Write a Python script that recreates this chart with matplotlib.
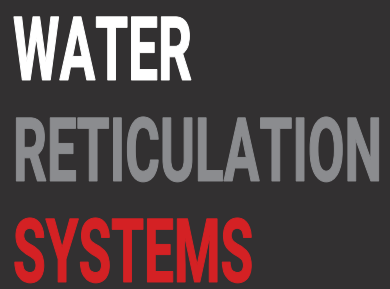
import matplotlib
matplotlib.use("Agg")
import matplotlib.pyplot as plt
from matplotlib import patheffects
from matplotlib.transforms import Affine2D

# 文字内容 / 颜色
WORDS = ["WATER", "RETICULATION", "SYSTEMS"]
COLORS = ["#ffffff", "#8b8c8f", "#d42124"]
BG = "#323031"

W, H = 390, 289
FAMILY = ["Liberation Sans Narrow", "Roboto", "DejaVu Sans"]
FONTSIZE = 64.0                  # 按字高定的字号
LEFT_PX = 13
BASELINES_PX = [80, 181, 282]   # 从顶部算起
TARGET_WIDTH_PX = 369            # RETICULATION 的宽度
BOLDEN = 0.7                     # 描边加粗 (pt)


class Stretch(patheffects.AbstractPathEffect):
    """在字形坐标里缩放并描边加粗（Bebas 这类窄粗字体没有，只好拉伸）"""
    def __init__(self, sx=1.0, sy=1.0, lw=0.0):
        super().__init__()
        self.sx = sx
        self.sy = sy
        self.lw = lw

    def draw_path(self, renderer, gc, tpath, affine, rgbFace=None):
        gc0 = renderer.new_gc()
        gc0.copy_properties(gc)
        if rgbFace is not None:
            gc0.set_foreground(rgbFace)
        gc0.set_linewidth(self.lw)
        gc0.set_joinstyle("miter")
        renderer.draw_path(gc0, tpath, Affine2D().scale(self.sx, self.sy) + affine, rgbFace)
        gc0.restore()


fig = plt.figure(figsize=(W / 100, H / 100), dpi=100)
fig.patch.set_facecolor(BG)

texts = []
for word, col, base in zip(WORDS, COLORS, BASELINES_PX):
    t = fig.text(LEFT_PX / W, 1 - base / H, word, color=col, family=FAMILY,
                 fontweight="bold", fontsize=FONTSIZE, ha="left", va="baseline")
    texts.append(t)

# 先按宽度缩小字号，再纵向拉回原来的字高
renderer = fig.canvas.get_renderer()
w0 = texts[1].get_window_extent(renderer).width
k = TARGET_WIDTH_PX / w0
for t in texts:
    t.set_fontsize(FONTSIZE * k)
    t.set_path_effects([Stretch(1.0, 1.0 / k, BOLDEN)])

fig.savefig("out.png", dpi=100, facecolor=BG)
